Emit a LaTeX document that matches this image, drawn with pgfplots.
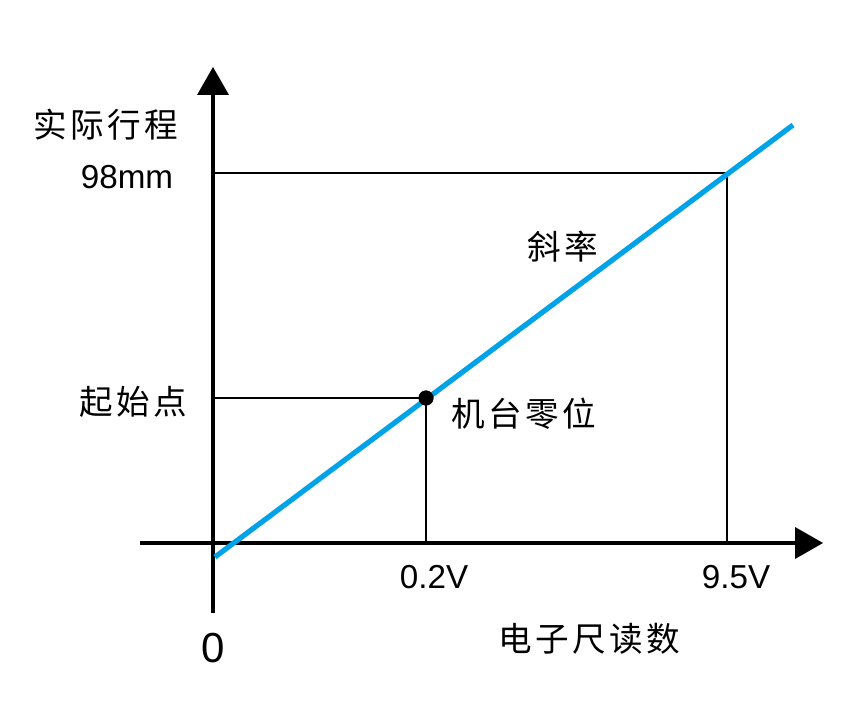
\documentclass[border=0pt]{standalone}
\usepackage{pgfplots}
\pgfplotsset{compat=1.18}
\usepackage{fontspec}
\setmainfont{Liberation Sans}
\newfontfamily\cjk[LetterSpace=10]{Noto Sans CJK SC}
\definecolor{cyanblue}{RGB}{0,162,232}
\begin{document}
\begin{tikzpicture}
\begin{axis}[scale only axis, width=427.5pt, height=352.5pt,
  xmin=0, xmax=855, ymin=0, ymax=705, y dir=reverse,
  hide axis, clip=false]
\path[fill=white] (axis cs:0,0) rectangle (axis cs:855,705);
% thin guide lines
\addplot[black, line width=0.6pt] coordinates {(213,398) (426,398) (426,543)};
\addplot[black, line width=0.6pt] coordinates {(213,173) (727,173) (727,543)};
% axes
\addplot[black, line width=2pt] coordinates {(213,613) (213,90)};
\addplot[black, line width=2pt] coordinates {(140,543) (800,543)};
\addplot[fill=black, draw=none] coordinates {(197,95) (229,95) (213,67)} -- cycle;
\addplot[fill=black, draw=none] coordinates {(795,527) (795,559) (823,543)} -- cycle;
% line
\addplot[color=cyanblue, line width=2.6pt] coordinates {(215,557) (793,125)};
\addplot[only marks, mark=*, mark size=3.6pt, black] coordinates {(426,398)};
% labels
\node[font=\cjk\fontsize{16.8}{20}\selectfont] at (axis cs:106,125) {实际行程};
\node[font=\fontsize{16.6}{20}\selectfont] at (axis cs:127,177) {98mm};
\node[font=\cjk\fontsize{16.8}{20}\selectfont] at (axis cs:133,402) {起始点};
\node[font=\cjk\fontsize{16.8}{20}\selectfont] at (axis cs:524,414) {机台零位};
\node[font=\cjk\fontsize{16.8}{20}\selectfont] at (axis cs:563,247) {斜率};
\node[font=\fontsize{16.6}{20}\selectfont] at (axis cs:434,577) {0.2V};
\node[font=\fontsize{16.6}{20}\selectfont] at (axis cs:736,577) {9.5V};
\node[font=\fontsize{21}{25}\selectfont] at (axis cs:213,648) {0};
\node[font=\cjk\fontsize{16.8}{20}\selectfont] at (axis cs:589,639) {电子尺读数};
\end{axis}
\end{tikzpicture}
\end{document}
